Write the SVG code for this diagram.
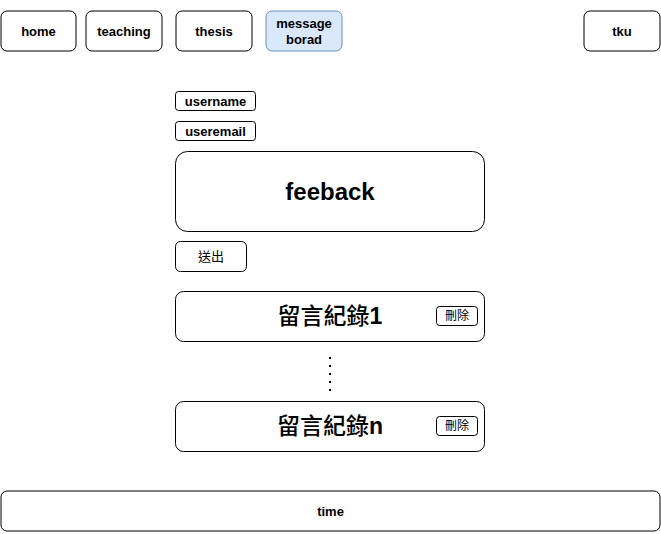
<svg xmlns="http://www.w3.org/2000/svg" width="661" height="534" viewBox="0 0 661 534">
<style>
rect{fill:#fff;stroke:#000;stroke-width:1}
.b{fill:#dae8fc;stroke:#6c8ebf}
.dot{fill:#000;stroke:none}
text{font-family:"Liberation Sans","Noto Sans CJK TC",sans-serif;text-anchor:middle;dominant-baseline:central;fill:#000}
.n{font-size:13px;font-weight:bold}
.big{font-size:24px;font-weight:bold}
.cj{font-size:23px;font-weight:500}
.bo{font-weight:bold}
.s{font-size:13px}
.d{font-size:12px}
</style>
<rect x="0" y="0" width="661" height="534" style="fill:#fff;stroke:none"/>
<g id="home"><rect x="1" y="11" width="75" height="40" rx="6"/><text class="n" x="38.5" y="31">home</text></g>
<g id="teaching"><rect x="86" y="11" width="76" height="40" rx="6"/><text class="n" x="124" y="31">teaching</text></g>
<g id="thesis"><rect x="176" y="11" width="76" height="40" rx="6"/><text class="n" x="214" y="31">thesis</text></g>
<g id="message"><rect class="b" x="266" y="11" width="76" height="40" rx="6"/><text class="n" x="304" y="23">message</text><text class="n" x="304" y="39.5">borad</text></g>
<g id="tku"><rect x="584" y="11" width="76" height="40" rx="6"/><text class="n" x="622" y="31">tku</text></g>
<g id="username"><rect x="175.5" y="91.5" width="80" height="19" rx="3"/><text class="n" x="215.5" y="101">username</text></g>
<g id="useremail"><rect x="175.5" y="121.5" width="80" height="19" rx="3"/><text class="n" x="215.5" y="131">useremail</text></g>
<g id="feeback"><rect x="175.5" y="151.5" width="309" height="80" rx="12"/><text class="big" x="330" y="191">feeback</text></g>
<g id="send"><rect x="175.5" y="241.5" width="71" height="30" rx="5"/><text class="s" x="211" y="256.5">送出</text></g>
<g id="rec1"><rect x="175.5" y="291.5" width="309" height="50" rx="8"/><text class="cj" x="330" y="316">留言紀錄<tspan class="bo">1</tspan></text>
<rect x="436.5" y="306.5" width="41" height="19" rx="3"/><text class="d" x="457" y="316">刪除</text></g>
<g id="dots"><rect class="dot" x="329" y="357" width="2" height="2"/><rect class="dot" x="329" y="365" width="2" height="2"/><rect class="dot" x="329" y="373" width="2" height="2"/><rect class="dot" x="329" y="381" width="2" height="2"/><rect class="dot" x="329" y="389" width="2" height="2"/></g>
<g id="recn"><rect x="175.5" y="401.5" width="309" height="50" rx="8"/><text class="cj" x="330" y="426">留言紀錄<tspan class="bo">n</tspan></text>
<rect x="436.5" y="416.5" width="41" height="19" rx="3"/><text class="d" x="457" y="426">刪除</text></g>
<g id="time"><rect x="1" y="491" width="659" height="40" rx="6"/><text class="n" x="330.5" y="511">time</text></g>
<g id="connectors"></g>
</svg>
